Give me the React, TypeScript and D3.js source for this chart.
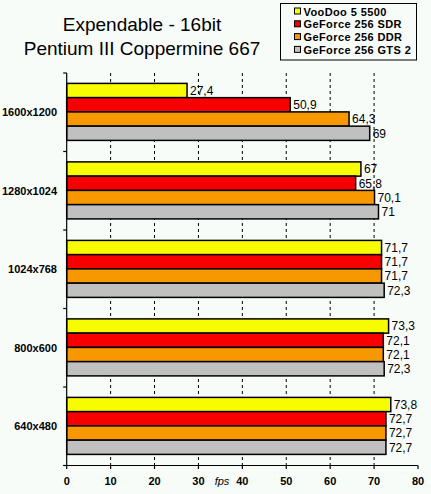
import * as d3 from 'd3';

const resolutions = ['1600x1200', '1280x1024', '1024x768', '800x600', '640x480'];
const cards = ['VooDoo 5 5500', 'GeForce 256 SDR', 'GeForce 256 DDR', 'GeForce 256 GTS 2'];

// fps per card, one entry per resolution
const voodoo = [27.4, 67, 71.7, 73.3, 73.8];
const gfSdr = [50.9, 65.8, 71.7, 72.1, 72.7];
const gfDdr = [64.3, 70.1, 71.7, 72.1, 72.7];
const gfGts2 = [69, 71, 72.3, 72.3, 72.7];

const xTicks = [0, 10, 20, 30, 40, 50, 60, 70, 80];

const COLORS = ['#f8fc00', '#f80000', '#f89800', '#c0c0c0'];
const BG = '#f8fcf8';
const FONT = '"Liberation Sans", Arial, sans-serif';

const W = 431;
const H = 494;

export default function App() {
  const series = [voodoo, gfSdr, gfDdr, gfGts2];

  const x = d3.scaleLinear().domain([0, 80]).range([66.7, 418]);
  const y = d3.scaleBand().domain(resolutions).range([73, 465.5]).padding(0);
  const inner = d3.scaleBand().domain(cards).range([10.4, 67.4]).padding(0);

  const top = y.range()[0];
  const bottom = y.range()[1];
  const fmt = (v: number) => String(v).replace('.', ',');

  const boundaries = [...resolutions.map((r) => y(r)!), bottom];

  return (
    <svg
      width={W}
      height={H}
      style={{ position: 'absolute', left: 0, top: 0, display: 'block', background: BG }}
      fontFamily={FONT}
    >
      <rect x={0} y={0} width={W} height={H} fill={BG} />

      {/* Title */}
      <text x={142} y={30.5} textAnchor="middle" fontSize={19} fill="#000">
        Expendable - 16bit
      </text>
      <text x={142} y={55} textAnchor="middle" fontSize={19} fill="#000">
        Pentium III Coppermine 667
      </text>

      {/* Legend */}
      <rect x={280.5} y={3.5} width={136} height={56.5} fill={BG} stroke="#000" strokeWidth={1} />
      {cards.map((c, i) => (
        <g key={c} transform={`translate(294,${15.5 + i * 12.8})`}>
          <rect x={0.5} y={-7.5} width={6} height={6} fill={COLORS[i]} stroke="#000" strokeWidth={1} />
          <text x={9.5} y={0} fontSize={11} fontWeight="bold" letterSpacing={0.4} fill="#000">
            {c}
          </text>
        </g>
      ))}

      {/* Grid lines */}
      {xTicks.slice(1, -1).map((t) => (
        <line
          key={t}
          x1={x(t)}
          x2={x(t)}
          y1={top}
          y2={bottom}
          stroke="#000"
          strokeWidth={1}
          strokeDasharray="3,3"
        />
      ))}

      {/* Bars */}
      {resolutions.map((r, ri) => (
        <g key={r} transform={`translate(0,${y(r)})`}>
          {cards.map((c, ci) => {
            const v = series[ci][ri];
            const by = inner(c)!;
            const bh = inner.bandwidth();
            return (
              <g key={c}>
                <rect
                  x={x(0)}
                  y={by}
                  width={x(v) - x(0)}
                  height={bh}
                  fill={COLORS[ci]}
                  stroke="#000"
                  strokeWidth={1.5}
                />
                <text
                  x={x(v) + 3}
                  y={by + bh / 2 + 4.3}
                  fontSize={12}
                  fill="#000"
                >
                  {fmt(v)}
                </text>
              </g>
            );
          })}
          <text
            x={57}
            y={y.bandwidth() / 2 + 4}
            textAnchor="end"
            fontSize={11}
            fontWeight="bold"
            fill="#000"
          >
            {r}
          </text>
        </g>
      ))}

      {/* Left axis */}
      <line x1={x(0)} x2={x(0)} y1={top} y2={bottom} stroke="#000" strokeWidth={1.2} />
      {boundaries.map((b, i) => (
        <line key={i} x1={x(0) - 3.5} x2={x(0)} y1={b} y2={b} stroke="#000" strokeWidth={1.2} />
      ))}

      {/* Bottom axis */}
      <line x1={x(0) - 3.5} x2={x(80)} y1={bottom} y2={bottom} stroke="#000" strokeWidth={1.2} />
      {xTicks.map((t) => (
        <g key={t} transform={`translate(${x(t)},${bottom})`}>
          <line y1={0} y2={3.5} stroke="#000" strokeWidth={1.2} />
          <text y={19} textAnchor="middle" fontSize={11} fontWeight="bold" fill="#000">
            {t}
          </text>
        </g>
      ))}
      <text x={222} y={485} textAnchor="middle" fontSize={11} fontStyle="italic" fill="#000">
        fps
      </text>
    </svg>
  );
}
